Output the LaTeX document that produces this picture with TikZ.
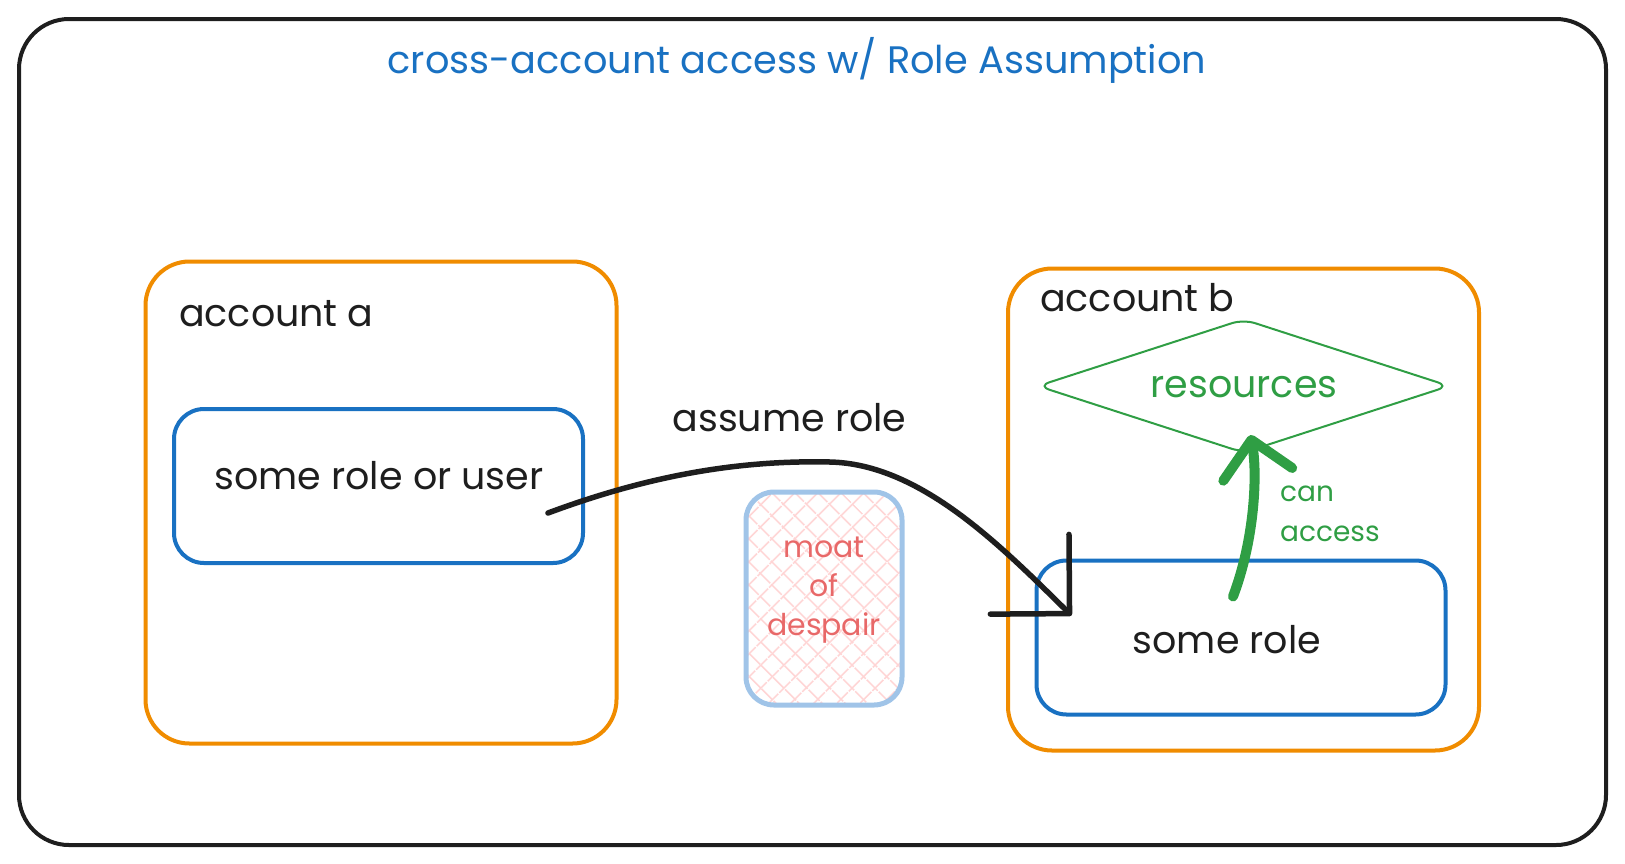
\documentclass[tikz,border=0pt]{standalone}
\usepackage{fontspec}
\setmainfont{Poppins}
\usepackage{tikz}
\usetikzlibrary{shapes,arrows.meta,positioning,calc,patterns.meta}

\definecolor{exblue}{RGB}{25,113,194}
\definecolor{exorange}{RGB}{240,140,0}
\definecolor{exgreen}{RGB}{47,158,68}
\definecolor{exink}{RGB}{30,30,30}
\definecolor{moatblue}{RGB}{160,196,232}
\definecolor{moatred}{RGB}{232,104,104}
\definecolor{hatchred}{RGB}{255,212,212}

\begin{document}
\begin{tikzpicture}[x=1pt, y=-1pt,
    lbl/.style={font=\fontsize{38}{46}\selectfont, text=exink, inner sep=0pt},
    acct/.style={draw=exorange, line width=4pt, rounded corners=44pt, minimum width=471pt, minimum height=482pt},
    rolebox/.style={draw=exblue, line width=4pt, rounded corners=30pt, minimum width=409pt, minimum height=154pt}]
    \useasboundingbox (0,0) rectangle (1625,863);
    \node[draw=exink, line width=4pt, rounded corners=50pt, minimum width=1587pt, minimum height=826pt] (frame) at (812.5,432) {};
    \node[font=\fontsize{38.3}{46}\selectfont, text=exblue, inner sep=0pt] (title) at (797,60) {cross-account access w/ Role Assumption};

    % the two accounts
    \node[acct] (accta) at (381,502.5) {};
    \node[acct] (acctb) at (1243.5,509.5) {};
    \node[lbl, anchor=base west] (accalbl) at (179,326) {account a};
    \node[lbl, anchor=base west] (acctblbl) at (1040,311) {account b};

    \node[rolebox] (user) at (378.5,486) {};
    \node[lbl, anchor=base] (userlbl) at (379,489) {some role or user};
    \node[rolebox] (somerole) at (1241,637.5) {};
    \node[lbl, anchor=base] (somerolelbl) at (1227,653) {some role};

    \node[diamond, draw=exgreen, line width=2pt, rounded corners=12pt, inner sep=0pt, shape aspect=3, minimum width=412pt, minimum height=134pt] (resources) at (1243.5,386) {};
    \node[lbl, anchor=base, text=exgreen] (reslbl) at (1244,397) {resources};

    % moat in between
    \node[draw=moatblue, line width=5pt, rounded corners=28pt, minimum width=156pt, minimum height=213pt,
          preaction={pattern={Lines[angle=45,distance=17pt,line width=2pt]}, pattern color=hatchred},
          pattern={Lines[angle=-45,distance=17pt,line width=2pt]}, pattern color=hatchred] (moat) at (824,598.5) {};
    \node[font=\fontsize{30}{39}\selectfont, text=moatred, align=center, inner sep=0pt] (moatlbl) at ($(moat.center)+(0,-8)$) {moat\\of\\despair};

    % connectors
    \coordinate (assumestart) at ($(user.east)+(-37,27)$);
    \coordinate (assumeend) at ($(somerole.west)+(37,-22)$);
    \coordinate (accessstart) at ($(somerole.north)+(-8,38)$);
    \coordinate (accessend) at ($(resources.south)+(7,-19)$);

    \draw[exink, line width=5.5pt, line cap=round, -{Straight Barb[length=56pt, width=112pt, round]}]
        (assumestart) .. controls (650,475) and (740,460) .. (830,462) .. controls (920,464) and (1000,545) .. (assumeend);
    \node[lbl, anchor=base] (assumelbl) at (789.5,431) {assume role};

    \draw[exgreen, line width=10pt, line cap=round, -{Straight Barb[length=35pt, width=70pt, round]}]
        (accessstart) .. controls +(22,-58) and +(7,38) .. (accessend);
    \node[font=\fontsize{28}{40}\selectfont, text=exgreen, align=left, anchor=west, inner sep=0pt] (accesslbl) at (1280,514) {can\\access};
\end{tikzpicture}
\end{document}
